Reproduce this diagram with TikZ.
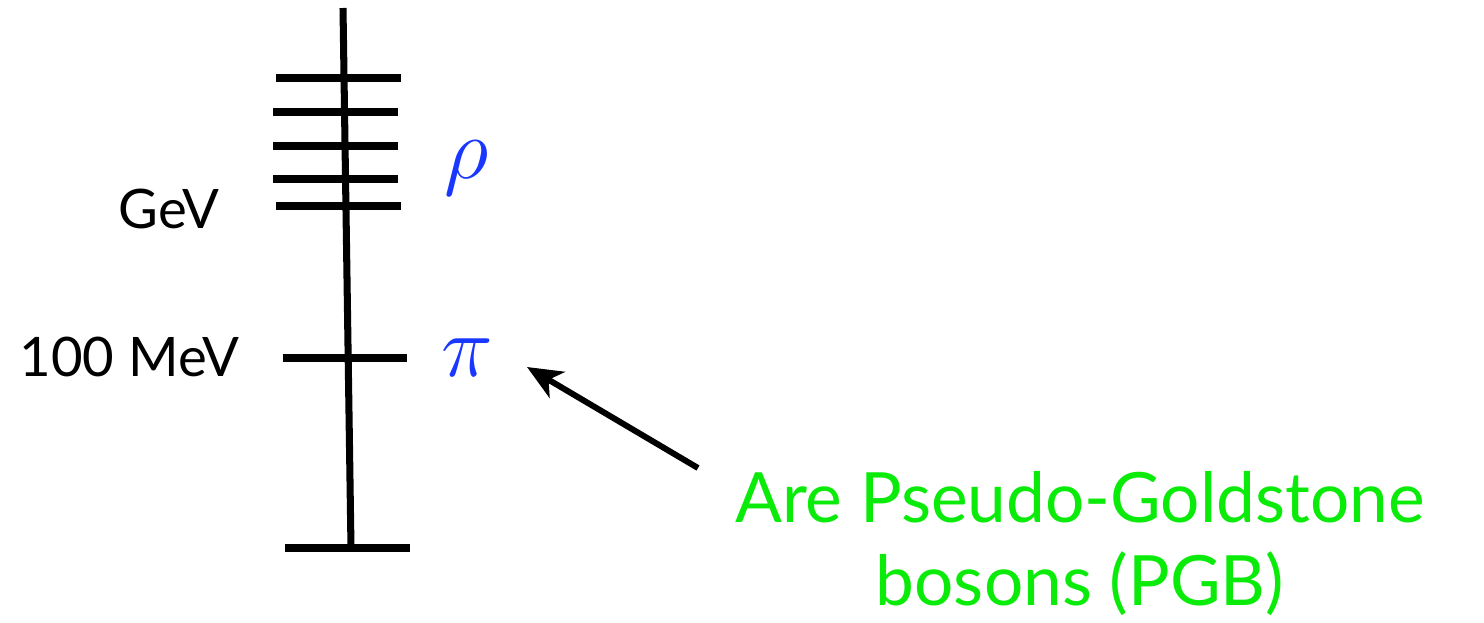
\documentclass[tikz,border=0pt]{standalone}
\usepackage{fontspec}
\setmainfont{Lato}
\usetikzlibrary{arrows.meta, positioning}
\definecolor{partblue}{RGB}{25,55,255}
\definecolor{pgbgreen}{RGB}{10,235,10}
\tikzset{
  axisline/.style={line width=4pt},
  level/.style={line width=4pt},
  scalelbl/.style={font=\fontsize{31}{37}\selectfont, inner sep=0pt},
  particle/.style={text=partblue, inner sep=0pt},
  pointer/.style={line width=3.4pt, -{Stealth[length=7mm,width=6mm,inset=2mm]}},
  note/.style={text=pgbgreen, font=\fontsize{39.5}{47}\selectfont, align=center, inner sep=0pt}
}
\newcommand{\bigmath}[1]{\scalebox{2}{\Huge$#1$}}

\begin{document}
\begin{tikzpicture}
    \useasboundingbox (0,0) rectangle (29.68,-12.44);

    % Eje de energia
    \draw[axisline] (6.86,-0.16) -- (7.02,-10.96);

    % Niveles del rho
    \foreach \y/\xa in {1.56/5.52, 2.24/5.46, 2.92/5.46, 3.58/5.46, 4.12/5.52} {
        \draw[level] (\xa,-\y) -- ++(2.5,0);
    }

    % Nivel del pion y fondo
    \draw[level] (5.66,-7.16) -- (8.14,-7.16);
    \draw[level] (5.70,-10.96) -- (8.20,-10.96);

    % Escala
    \node[scalelbl, anchor=base east] (gev) at (4.4,-4.56) {GeV};
    \node[scalelbl, anchor=base east] (mev) at (4.8,-7.52) {100 MeV};

    % Particulas
    \node[particle] (rho) at (9.34,-3.36) {\bigmath{\rho}};
    \node[particle] (pi) at (9.34,-7.16) {\bigmath{\pi}};

    % Nota PGB
    \node[note, anchor=base] (pgb) at (21.6,-12.1) {Are Pseudo-Goldstone\\bosons (PGB)};
    \coordinate (tail) at (13.96,-9.36);
    \coordinate (tip) at (10.54,-7.34);
    \draw[pointer] (tail) -- (tip);

\end{tikzpicture}
\end{document}
